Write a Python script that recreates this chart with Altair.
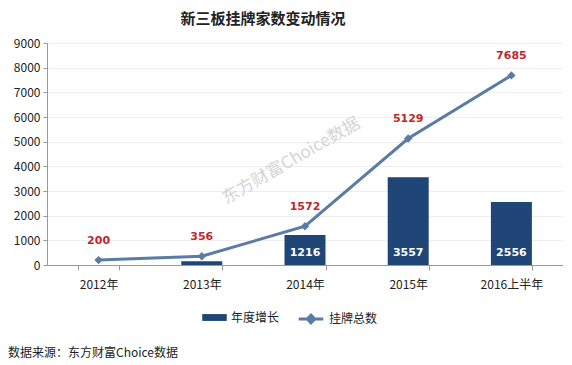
import altair as alt
import pandas as pd

categories = ["2012年", "2013年", "2014年", "2015年", "2016上半年"]
growth = [None, 156, 1216, 3557, 2556]
total = [200, 356, 1572, 5129, 7685]

title_text = "新三板挂牌家数变动情况"
source_text = "数据来源：东方财富Choice数据"
watermark_text = "东方财富Choice数据"
series_names = ["年度增长", "挂牌总数"]
y_ticks = [0, 1000, 2000, 3000, 4000, 5000, 6000, 7000, 8000, 9000]

BAR = "#1F4676"
LINE = "#5A7BA3"
RED = "#C0262D"
CJK = "Noto Sans CJK SC"

df = pd.DataFrame({
    "cat": categories,
    "growth": growth,
    "total": total,
    "s1": series_names[0],
    "s2": series_names[1],
})

legend_common = dict(
    title=None, orient="none", direction="horizontal",
    labelFont=CJK, labelFontSize=12, labelColor="#222",
    symbolSize=600, labelOffset=4, symbolOpacity=1,
)
bar_legend = alt.Legend(
    legendX=155, legendY=262,
    symbolType="M-1,-0.28L1,-0.28L1,0.28L-1,0.28Z",
    symbolFillColor=BAR, symbolStrokeWidth=0,
    **legend_common,
)
line_legend = alt.Legend(
    legendX=250, legendY=262,
    symbolType="M-1,0L1,0M0,-0.32L0.3,0L0,0.32L-0.3,0Z",
    symbolFillColor=LINE, symbolStrokeColor=LINE, symbolStrokeWidth=3,
    **legend_common,
)

x_axis = alt.Axis(
    labelAngle=0, labelFont=CJK, labelFontSize=12, labelColor="#222",
    domainColor="#999", tickColor="#999", tickSize=5, tickBand="extent",
    labelPadding=9,
)
x_scale = alt.Scale(paddingInner=0.6, paddingOuter=0.3)
y_scale = alt.Scale(domain=[0, 9000], nice=False)
y_axis = alt.Axis(
    values=y_ticks, format="d", labelFont=CJK, labelFontSize=12,
    labelColor="#222", domainColor="#999", tickColor="#999", tickSize=4,
    gridColor="#eeeeee", grid=True, labelPadding=3, labelOverlap=False,
)


def X(field):
    return alt.X(field, sort=categories, title=None, scale=x_scale, axis=x_axis)


def Y(field):
    return alt.Y(field, title=None, scale=y_scale, axis=y_axis)


base = alt.Chart(df)

bars = base.transform_filter("datum.growth != null").mark_bar(size=41).encode(
    x=X("cat:N"),
    y=Y("growth:Q"),
    color=alt.Color("s1:N", scale=alt.Scale(domain=[series_names[0]], range=[BAR]), legend=bar_legend),
)

bar_labels = base.transform_filter("datum.growth != null").mark_text(
    font="DejaVu Sans", fontWeight="bold", fontSize=11, color="white",
    baseline="middle", dy=-12,
).encode(
    x=X("cat:N"),
    y=alt.YDatum(0, type="quantitative", title=None, scale=y_scale, axis=y_axis),
    text=alt.Text("growth:Q", format="d"),
)

line = base.mark_line(strokeWidth=3).encode(
    x=X("cat:N"),
    y=Y("total:Q"),
    stroke=alt.Stroke("s2:N", scale=alt.Scale(domain=[series_names[1]], range=[LINE]), legend=line_legend),
)

points = base.mark_point(shape="diamond", size=70, filled=True, color=LINE, opacity=1).encode(
    x=X("cat:N"),
    y=Y("total:Q"),
)

line_labels = base.mark_text(
    font="DejaVu Sans", fontWeight="bold", fontSize=11, color=RED,
    baseline="middle", dy=-19,
).encode(
    x=X("cat:N"),
    y=Y("total:Q"),
    text=alt.Text("total:Q", format="d"),
)

watermark = alt.Chart(alt.Data(values=[{"t": watermark_text, "c": categories[2], "v": 4540}])).mark_text(
    font=CJK, fontSize=17, color="#d4d4d4", angle=330, dx=-16,
).encode(
    x=X("c:N"),
    y=Y("v:Q"),
    text="t:N",
)

source = alt.Chart(alt.Data(values=[{"t": source_text}])).mark_text(
    font=CJK, fontSize=12, color="#222", align="left", baseline="middle",
).encode(
    x=alt.value(-39),
    y=alt.value(310),
    text="t:N",
)

chart = alt.layer(bars, watermark, bar_labels, line, points, line_labels, source).properties(
    width=516, height=222,
    padding={"left": 0, "top": 4, "right": 0, "bottom": 0},
    title=alt.TitleParams(title_text, font=CJK, fontSize=15, fontWeight="bold",
                          color="#222", anchor="middle", offset=10, dx=-42),
).resolve_scale(color="independent", stroke="independent").configure_view(stroke=None).configure(background="white")

chart.save("out.html", embed_options={"renderer": "svg", "actions": False})
